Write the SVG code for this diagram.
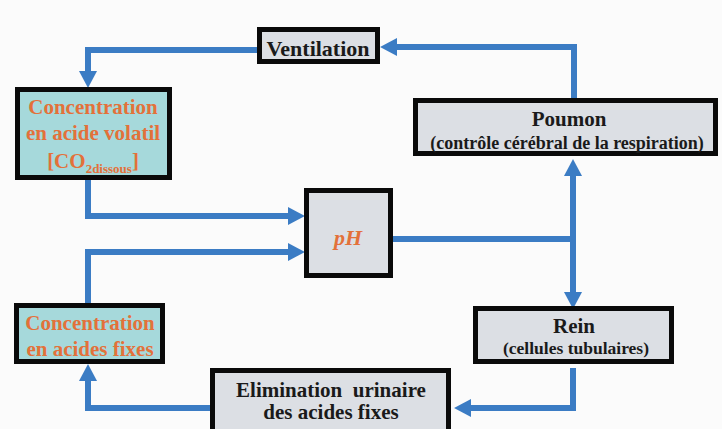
<svg xmlns="http://www.w3.org/2000/svg" width="722" height="429" viewBox="0 0 722 429">
<defs>
<style>
.box{stroke:#0a0a0a;stroke-width:5}
.grey{fill:#dcdfe4}
.cyan{fill:#a6d9db}
.t{font-family:'Liberation Serif','DejaVu Serif',serif;font-weight:bold;text-anchor:middle;fill:#1a1a1a}
.o{fill:#e3713a}
.c{fill:none;stroke:#3b7cc4;stroke-width:6}
</style>
<marker id="ah" markerUnits="userSpaceOnUse" markerWidth="18" markerHeight="18" refX="0" refY="8.5" orient="auto" viewBox="0 0 16 17">
<path d="M0,0 L16,8.5 L0,17 z" fill="#3b7cc4"/>
</marker>
</defs>
<rect width="722" height="429" fill="#fbfbfb"/>
<g id="connectors">
<path class="c" d="M574,98 V47 H397" marker-end="url(#ah)"/>
<path class="c" d="M257,50 H88 V71" marker-end="url(#ah)"/>
<path class="c" d="M88,180 V216 H288" marker-end="url(#ah)"/>
<path class="c" d="M88,303 V252 H288" marker-end="url(#ah)"/>
<path class="c" d="M393,239 H573 V292" marker-end="url(#ah)"/>
<path class="c" d="M573,242 V176" marker-end="url(#ah)"/>
<path class="c" d="M573,368 V408 H471" marker-end="url(#ah)"/>
<path class="c" d="M210,408 H88 V381" marker-end="url(#ah)"/>
</g>
<g id="ventilation">
<rect class="box grey" x="259.5" y="29.5" width="118" height="32"/>
<text class="t" x="318" y="56" font-size="22">Ventilation</text>
</g>
<g id="conc-volatil">
<rect class="box cyan" x="17.5" y="89.5" width="152" height="88"/>
<text class="t o" x="93" y="114" font-size="21">Concentration</text>
<text class="t o" x="93" y="140" font-size="21">en acide volatil</text>
<text class="t o" x="93" y="168" font-size="21">[CO<tspan font-size="13" dy="5">2dissous</tspan><tspan dy="-5">]</tspan></text>
</g>
<g id="poumon">
<rect class="box grey" x="415.5" y="100.5" width="300" height="53"/>
<text class="t" x="569" y="126" font-size="21">Poumon</text>
<text class="t" x="567" y="149" font-size="18">(contrôle cérébral de la respiration)</text>
</g>
<g id="ph">
<rect class="box grey" x="306.5" y="190.5" width="84" height="85"/>
<text class="t o" x="348" y="245" font-size="22" font-style="italic">pH</text>
</g>
<g id="conc-fixes">
<rect class="box cyan" x="16.5" y="305.5" width="146" height="56"/>
<text class="t o" x="90" y="330" font-size="21">Concentration</text>
<text class="t o" x="90" y="356" font-size="21">en acides fixes</text>
</g>
<g id="rein">
<rect class="box grey" x="475.5" y="308.5" width="196" height="53"/>
<text class="t" x="574" y="333" font-size="21">Rein</text>
<text class="t" x="576" y="354" font-size="17.5">(cellules tubulaires)</text>
</g>
<g id="elimination">
<rect class="box grey" x="212.5" y="370.5" width="236" height="70"/>
<text class="t" x="331" y="397" font-size="21" xml:space="preserve">Elimination  urinaire</text>
<text class="t" x="331" y="419" font-size="21">des acides fixes</text>
</g>
</svg>
